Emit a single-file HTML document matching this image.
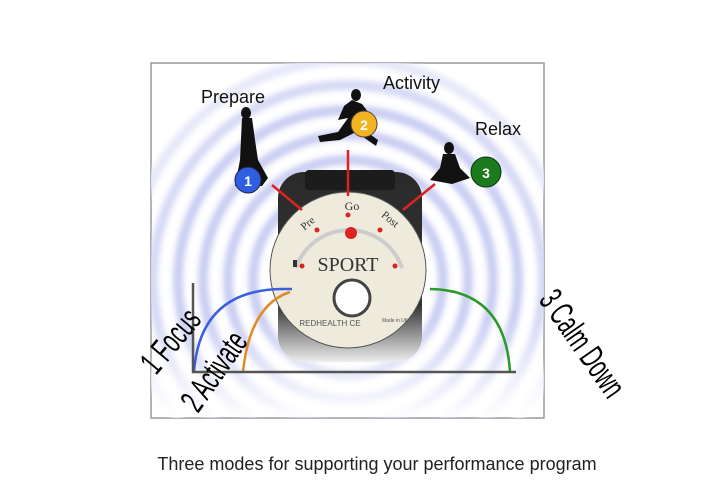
<!DOCTYPE html>
<html><head><meta charset="utf-8"><style>
body{margin:0;background:#fff;width:720px;height:498px;overflow:hidden}
</style></head><body>
<svg width="720" height="498" viewBox="0 0 720 498" xmlns="http://www.w3.org/2000/svg" font-family="Liberation Sans, sans-serif">
<defs>
<linearGradient id="body" x1="0" y1="0" x2="0" y2="1"><stop offset="0" stop-color="#2a2a2a"/><stop offset="0.7" stop-color="#333"/><stop offset="1" stop-color="#eee"/></linearGradient>
<clipPath id="fr"><rect x="151" y="63" width="393" height="355"/></clipPath>
<linearGradient id="bf" x1="0" y1="0" x2="0" y2="1"><stop offset="0" stop-color="#fff" stop-opacity="0"/><stop offset="1" stop-color="#fff" stop-opacity="0.95"/></linearGradient>
<filter id="bl" x="-20%" y="-20%" width="140%" height="140%"><feGaussianBlur stdDeviation="3"/></filter>
</defs>
<rect x="151" y="63" width="393" height="355" fill="#fff" stroke="#999" stroke-width="1.5"/>
<g clip-path="url(#fr)">
<g fill="none" stroke="#c9cdf2" stroke-width="10" filter="url(#bl)">
<circle cx="348" cy="280" r="95"/><circle cx="348" cy="280" r="120"/><circle cx="348" cy="280" r="145"/><circle cx="348" cy="280" r="170"/><circle cx="348" cy="280" r="195" stroke="#d6d9f5"/><circle cx="348" cy="280" r="220" stroke="#e6e8f9"/>
</g>
</g>
<rect x="152" y="320" width="391" height="97" fill="url(#bf)"/>
<!-- device -->
<rect x="278" y="172" width="144" height="190" rx="26" fill="url(#body)"/>
<rect x="305" y="170" width="90" height="20" rx="4" fill="#1c1c1c"/>
<circle cx="348" cy="270" r="78" fill="#eeebdd" stroke="#555" stroke-width="1"/>
<path d="M296 268 A56 56 0 0 1 402 268" fill="none" stroke="#ccc" stroke-width="4"/>
<g fill="#d22"><circle cx="302" cy="266" r="2.5"/><circle cx="317" cy="230" r="2.5"/><circle cx="348" cy="215" r="2.5"/><circle cx="380" cy="230" r="2.5"/><circle cx="395" cy="266" r="2.5"/><circle cx="351" cy="233" r="6"/></g>
<text x="348" y="271" font-family="Liberation Serif, serif" font-size="20" fill="#333" text-anchor="middle">SPORT</text>
<text x="352" y="210" font-family="Liberation Serif, serif" font-size="12" fill="#333" text-anchor="middle">Go</text>
<text x="310" y="226" font-family="Liberation Serif, serif" font-size="11" fill="#333" transform="rotate(-40 310 226)" text-anchor="middle">Pre</text>
<text x="388" y="222" font-family="Liberation Serif, serif" font-size="11" fill="#333" transform="rotate(40 388 222)" text-anchor="middle">Post</text>
<rect x="293" y="260" width="4" height="7" fill="#333"/>
<circle cx="352" cy="298" r="18" fill="#fff" stroke="#444" stroke-width="3"/>
<text x="330" y="326" font-size="8" fill="#555" text-anchor="middle">REDHEALTH  CE</text>
<text x="382" y="322" font-size="5" fill="#555">Made in UK</text>
<g stroke="#d22" stroke-width="2.5"><line x1="272" y1="185" x2="302" y2="210"/><line x1="348" y1="150" x2="348" y2="196"/><line x1="435" y1="184" x2="403" y2="210"/></g>
<g fill="#111">
<ellipse cx="246" cy="113" rx="5" ry="6"/><path d="M242 118 L252 118 L255 140 L258 160 L268 178 L262 186 L235 186 L240 160 Z"/>
<ellipse cx="356" cy="95" rx="5" ry="6"/><path d="M352 100 L362 104 L368 112 L374 122 L370 124 L362 114 L364 130 L378 140 L376 146 L356 132 L340 140 L320 142 L318 136 L338 132 L348 118 L338 120 L344 106 Z"/>
<ellipse cx="449" cy="148" rx="5" ry="6"/><path d="M443 154 L455 154 L460 168 L470 178 L452 184 L430 180 L440 168 Z"/>
</g>
<circle cx="248" cy="180" r="13" fill="#2f5fe0" stroke="#224" stroke-width="1"/><text x="248" y="186" font-size="14" font-weight="bold" fill="#fff" text-anchor="middle">1</text>
<circle cx="364" cy="124" r="13" fill="#f2b323" stroke="#543" stroke-width="1"/><text x="364" y="130" font-size="14" font-weight="bold" fill="#fff" text-anchor="middle">2</text>
<circle cx="486" cy="172" r="15" fill="#1b7a1b" stroke="#131" stroke-width="1"/><text x="486" y="178" font-size="14" font-weight="bold" fill="#fff" text-anchor="middle">3</text>
<g font-size="18" fill="#111"><text x="201" y="103">Prepare</text><text x="383" y="89">Activity</text><text x="475" y="135">Relax</text></g>
<g fill="none" stroke-width="2.5"><path d="M194 372 Q200 290 282 289 L292 289" stroke="#3a5fe0"/><path d="M243 372 Q250 305 290 292" stroke="#e08a2a"/><path d="M430 289 Q505 290 510 372" stroke="#2a9a2a"/></g>
<g stroke="#555" stroke-width="2.5"><line x1="193" y1="283" x2="193" y2="373"/><line x1="192" y1="372" x2="516" y2="372"/></g>
<g font-size="34" fill="#000">
<text transform="translate(156 376) rotate(-50) scale(0.6 1)">1 Focus</text>
<text transform="translate(198 414) rotate(-55) scale(0.6 1)">2 Activate</text>
<text transform="translate(538 300) rotate(55) scale(0.6 1)">3 Calm Down</text>
</g>
<text x="377" y="470" font-size="18" fill="#222" text-anchor="middle">Three modes for supporting your performance program</text>
</svg>
</body></html>
